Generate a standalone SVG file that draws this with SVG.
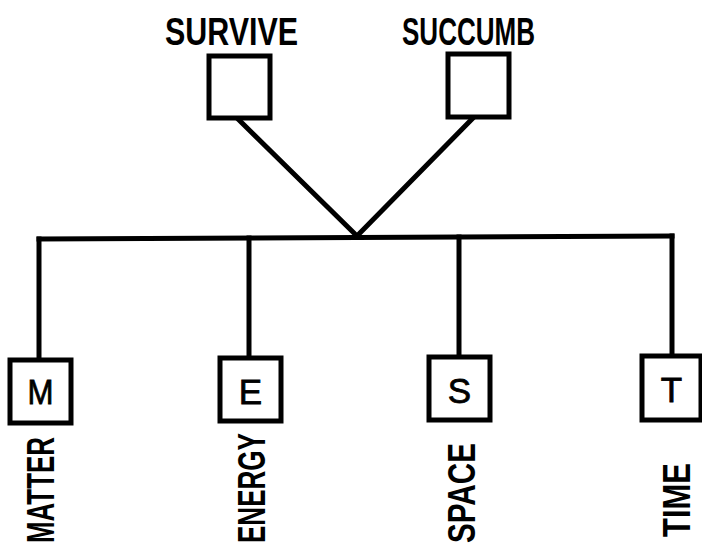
<svg xmlns="http://www.w3.org/2000/svg" width="702" height="544" viewBox="0 0 702 544">
<style>
.ln{stroke:#000;stroke-width:5;fill:none;stroke-linecap:square}
.box{stroke:#000;stroke-width:5;fill:#fff}
.top{font-family:"Liberation Sans",Arial,sans-serif;font-weight:bold;font-size:38px;fill:#000}
.in{font-family:"Liberation Sans",Arial,sans-serif;font-size:35px;fill:#000;text-anchor:middle;stroke:#000;stroke-width:0.8}
.rot{font-family:"Liberation Sans",Arial,sans-serif;font-weight:bold;font-size:38px;fill:#000}
</style>
<rect width="702" height="544" fill="#fff"/>
<g id="connectors">
<path class="ln" d="M238,119 L357,236 L472,119"/>
<path class="ln" d="M39,239 L672,236"/>
<path class="ln" d="M39,239 V358"/>
<path class="ln" d="M249,238 V358"/>
<path class="ln" d="M459,237 V357"/>
<path class="ln" d="M672,236 V355"/>
</g>
<g id="survive">
<text class="top" x="165" y="45" textLength="133" lengthAdjust="spacingAndGlyphs">SURVIVE</text>
<rect class="box" x="209" y="56" width="61" height="62"/>
</g>
<g id="succumb">
<text class="top" x="402" y="45" textLength="133" lengthAdjust="spacingAndGlyphs">SUCCUMB</text>
<rect class="box" x="448" y="54" width="61" height="63"/>
</g>
<g id="matter">
<rect class="box" x="10" y="360" width="61" height="63"/>
<text class="in" x="40.5" y="404" textLength="26" lengthAdjust="spacingAndGlyphs">M</text>
<text class="rot" transform="translate(54,543) rotate(-90)" textLength="106" lengthAdjust="spacingAndGlyphs">MATTER</text>
</g>
<g id="energy">
<rect class="box" x="220" y="358" width="61" height="63"/>
<text class="in" x="250.5" y="404">E</text>
<text class="rot" transform="translate(265,543) rotate(-90)" textLength="110" lengthAdjust="spacingAndGlyphs">ENERGY</text>
</g>
<g id="space">
<rect class="box" x="429" y="357" width="61" height="63"/>
<text class="in" x="459.5" y="403">S</text>
<text class="rot" transform="translate(475,543) rotate(-90)" textLength="100" lengthAdjust="spacingAndGlyphs">SPACE</text>
</g>
<g id="time">
<rect class="box" x="642" y="356" width="59" height="64"/>
<text class="in" x="671.5" y="402">T</text>
<text class="rot" transform="translate(690,537) rotate(-90)" textLength="74" lengthAdjust="spacingAndGlyphs">TIME</text>
</g>
</svg>
